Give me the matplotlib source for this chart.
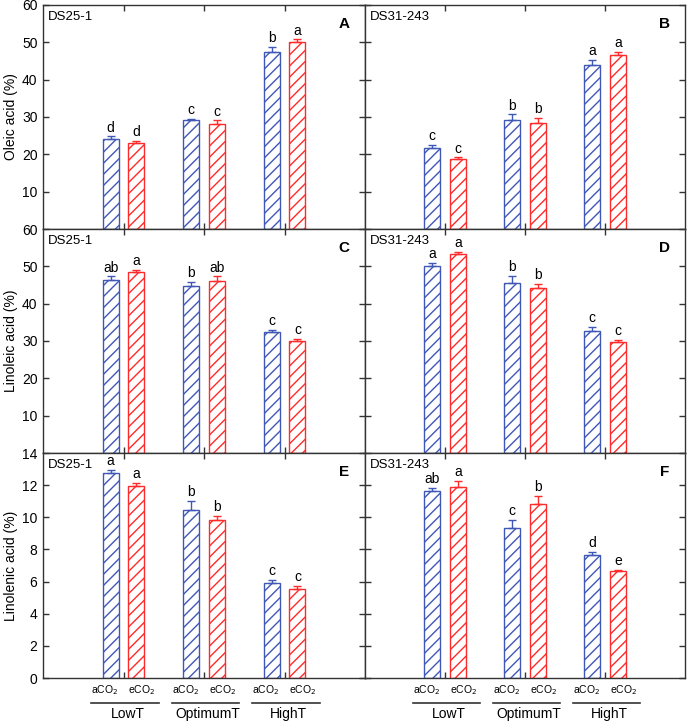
import numpy as np
import matplotlib
matplotlib.use('Agg')
import matplotlib.pyplot as plt

plt.rcParams['font.family'] = ['Liberation Sans', 'DejaVu Sans']
plt.rcParams['hatch.linewidth'] = 1.0

groups = ['LowT', 'OptimumT', 'HighT']
co2 = ['aCO$_2$', 'eCO$_2$']

# values per panel: (aCO2 means, aCO2 err, eCO2 means, eCO2 err, letters)
oleic_25_a = [24.0, 29.1, 47.5]
oleic_25_a_err = [0.8, 0.4, 1.2]
oleic_25_e = [23.0, 28.1, 50.2]
oleic_25_e_err = [0.5, 1.0, 0.6]
oleic_25_letters = ['d', 'd', 'c', 'c', 'b', 'a']

oleic_31_a = [21.6, 29.1, 43.8]
oleic_31_a_err = [0.9, 1.6, 1.6]
oleic_31_e = [18.7, 28.5, 46.5]
oleic_31_e_err = [0.5, 1.3, 0.9]
oleic_31_letters = ['c', 'c', 'b', 'b', 'a', 'a']

linoleic_25_a = [46.4, 44.7, 32.3]
linoleic_25_a_err = [0.9, 1.1, 0.7]
linoleic_25_e = [48.4, 46.1, 30.1]
linoleic_25_e_err = [0.7, 1.2, 0.5]
linoleic_25_letters = ['ab', 'a', 'b', 'ab', 'c', 'c']

linoleic_31_a = [50.1, 45.6, 32.6]
linoleic_31_a_err = [0.8, 1.8, 1.1]
linoleic_31_e = [53.2, 44.3, 29.6]
linoleic_31_e_err = [0.6, 0.9, 0.6]
linoleic_31_letters = ['a', 'a', 'b', 'b', 'c', 'c']

linolenic_25_a = [12.73, 10.44, 5.89]
linolenic_25_a_err = [0.22, 0.6, 0.22]
linolenic_25_e = [11.93, 9.84, 5.55]
linolenic_25_e_err = [0.22, 0.23, 0.2]
linolenic_25_letters = ['a', 'a', 'b', 'b', 'c', 'c']

linolenic_31_a = [11.65, 9.35, 7.65]
linolenic_31_a_err = [0.2, 0.5, 0.2]
linolenic_31_e = [11.9, 10.8, 6.65]
linolenic_31_e_err = [0.35, 0.55, 0.08]
linolenic_31_letters = ['ab', 'a', 'c', 'b', 'd', 'e']

BLUE = '#3f57b5'
RED = '#ff2a2a'
AXC = '#333333'

W, H = 687, 721
fig = plt.figure(figsize=(W / 100, H / 100), dpi=100)

cols = [(43, 322), (365, 320)]
rows = [(5, 224), (229, 224), (453, 225)]


def make_ax(r, c):
    x0, w = cols[c]
    y0, h = rows[r]
    return fig.add_axes([x0 / W, (H - y0 - h) / H, w / W, h / H])


def draw(ax, a, ae, e, ee, letters, ymax, yticks, cultivar, tag, ylabel=None, showlabels=True, bottom=False):
    x = np.arange(1, 4)
    off = 0.16
    bw = 0.2
    ax.bar(x - off, a, bw, color='white', edgecolor=BLUE, hatch='///', linewidth=1.0, zorder=2)
    ax.bar(x + off, e, bw, color='white', edgecolor=RED, hatch='///', linewidth=1.0, zorder=2)
    ax.errorbar(x - off, a, yerr=[np.zeros(3), ae], fmt='none', ecolor=BLUE, capsize=3, elinewidth=1, zorder=3)
    ax.errorbar(x + off, e, yerr=[np.zeros(3), ee], fmt='none', ecolor=RED, capsize=3, elinewidth=1, zorder=3)
    tops = []
    for i in range(3):
        tops.append((x[i] - off, a[i] + ae[i]))
        tops.append((x[i] + off, e[i] + ee[i]))
    for (xx, yy), lab in zip(tops, letters):
        ax.text(xx, yy + ymax * 0.008, lab, ha='center', va='bottom', fontsize=10)
    ax.set_xlim(0, 4)
    ax.set_ylim(0, ymax)
    ax.set_xticks(x)
    ax.set_xticklabels([])
    ax.set_yticks(yticks)
    if showlabels:
        ax.set_yticklabels([str(t) for t in yticks])
    else:
        ax.set_yticklabels([])
    ax.tick_params(direction='in', top=True, right=True, length=4, width=1,
                   color=AXC, labelsize=10, pad=4)
    for s in ax.spines.values():
        s.set_color(AXC)
        s.set_linewidth(1.0)
    ax.text(0.015, 0.975, cultivar, transform=ax.transAxes, ha='left', va='top', fontsize=9.5)
    ax.text(0.935, 0.915, tag, transform=ax.transAxes, ha='center', va='center',
            fontsize=11, fontweight='bold')
    if ylabel:
        ax.set_ylabel(ylabel, fontsize=10)
        ax.yaxis.set_label_coords(-0.078, 0.5)
    if bottom:
        tr = ax.get_xaxis_transform()
        for i, g in enumerate(groups):
            ax.text(x[i] - 0.23, -0.055, co2[0], transform=tr, ha='center', va='center', fontsize=7.5)
            ax.text(x[i] + 0.23, -0.055, co2[1], transform=tr, ha='center', va='center', fontsize=7.5)
            ax.plot([x[i] - 0.4, x[i] + 0.44], [-0.112, -0.112], transform=tr, color=AXC,
                    lw=1.2, clip_on=False)
            ax.text(x[i] + 0.05, -0.16, g, transform=tr, ha='center', va='center', fontsize=10)


big = [10, 20, 30, 40, 50, 60]
small = [0, 2, 4, 6, 8, 10, 12, 14]

ax = make_ax(0, 0)
draw(ax, oleic_25_a, oleic_25_a_err, oleic_25_e, oleic_25_e_err, oleic_25_letters,
     60, big, 'DS25-1', 'A', ylabel='Oleic acid (%)')
ax = make_ax(0, 1)
draw(ax, oleic_31_a, oleic_31_a_err, oleic_31_e, oleic_31_e_err, oleic_31_letters,
     60, big, 'DS31-243', 'B', showlabels=False)
ax = make_ax(1, 0)
draw(ax, linoleic_25_a, linoleic_25_a_err, linoleic_25_e, linoleic_25_e_err, linoleic_25_letters,
     60, big, 'DS25-1', 'C', ylabel='Linoleic acid (%)')
ax = make_ax(1, 1)
draw(ax, linoleic_31_a, linoleic_31_a_err, linoleic_31_e, linoleic_31_e_err, linoleic_31_letters,
     60, big, 'DS31-243', 'D', showlabels=False)
ax = make_ax(2, 0)
draw(ax, linolenic_25_a, linolenic_25_a_err, linolenic_25_e, linolenic_25_e_err, linolenic_25_letters,
     14, small, 'DS25-1', 'E', ylabel='Linolenic acid (%)', bottom=True)
ax = make_ax(2, 1)
draw(ax, linolenic_31_a, linolenic_31_a_err, linolenic_31_e, linolenic_31_e_err, linolenic_31_letters,
     14, small, 'DS31-243', 'F', showlabels=False, bottom=True)

fig.savefig('out.png', dpi=100)
